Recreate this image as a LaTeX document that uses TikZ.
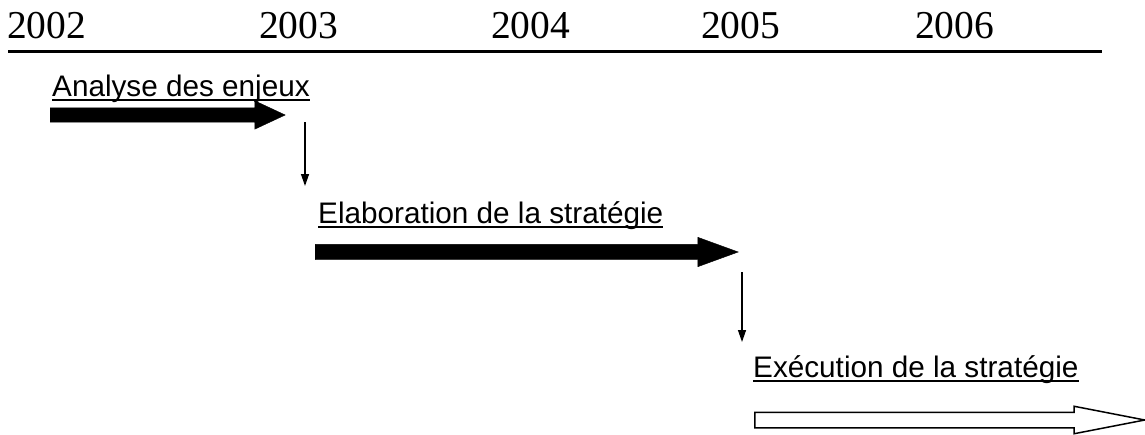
\documentclass[tikz,border=0pt]{standalone}
\usepackage{fontspec}
\setmainfont{Liberation Serif}
\setsansfont{Liberation Sans}
\usetikzlibrary{shapes.arrows,arrows.meta}
\tikzset{
  year/.style={anchor=base west,inner sep=0pt,font=\fontsize{39.5}{42}\selectfont},
  axisline/.style={line width=3pt},
  phase/.style={anchor=base west,inner sep=0pt,font=\sffamily\fontsize{29.7}{32}\selectfont},
  phaseline/.style={line width=2pt},
  phasebar/.style={single arrow,draw,fill=black,anchor=tail,inner sep=0pt},
  phasehollow/.style={single arrow,draw,fill=white,line width=1.5pt,anchor=tail,inner sep=0pt},
  steparr/.style={-{Triangle[length=12pt,width=8pt]},line width=1.3pt}
}
\begin{document}
\begin{tikzpicture}[x=1pt,y=-1pt]
  \useasboundingbox (0,0) rectangle (1145,434);
  % years and axis
  \foreach \n/\x in {2002/7,2003/259,2004/491,2005/701,2006/915}
    \node[year] (y\n) at (\x,38) {\n};
  \coordinate (axl) at (8,51);
  \coordinate (axr) at (1102,51);
  \draw[axisline] (axl) -- (axr);

  % phase 1
  \node[phase] (t1) at (52,96) {Analyse des enjeux};
  \draw[phaseline] ([yshift=-4pt]t1.base west) -- ([yshift=-4pt]t1.base east);
  \node[phasebar,minimum height=235pt,inner ysep=7pt,single arrow head extend=7pt,
    single arrow tip angle=50] (b1) at (50,115) {};
  \coordinate (v1a) at (305,122);
  \coordinate (v1b) at (305,186);
  \draw[steparr] (v1a) -- (v1b);

  % phase 2
  \node[phase] (t2) at (318,223) {Elaboration de la stratégie};
  \draw[phaseline] ([yshift=-4pt]t2.base west) -- ([yshift=-4pt]t2.base east);
  \node[phasebar,minimum height=423pt,inner ysep=7.5pt,single arrow head extend=7pt,
    single arrow tip angle=40] (b2) at (315,252) {};
  \coordinate (v2a) at (742,272);
  \coordinate (v2b) at (742,342);
  \draw[steparr] (v2a) -- (v2b);

  % phase 3
  \node[phase] (t3) at (753,377) {Exécution de la stratégie};
  \draw[phaseline] ([yshift=-4pt]t3.base west) -- ([yshift=-4pt]t3.base east);
  \node[phasehollow,minimum height=390pt,inner ysep=7pt,single arrow head extend=6pt,
    single arrow tip angle=22] (b3) at (754,420) {};
\end{tikzpicture}
\end{document}
